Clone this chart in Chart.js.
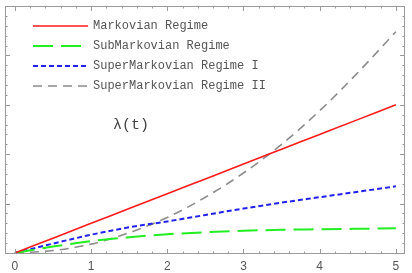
<!DOCTYPE html>
<html>
<head>
<meta charset="utf-8">
<script src="https://cdn.jsdelivr.net/npm/chart.js@4.4.1/dist/chart.umd.min.js"></script>
<style>
  html, body { margin: 0; padding: 0; background: #fff; }
  #wrap { width: 412px; height: 273px; }
</style>
</head>
<body>
<div id="wrap"><canvas id="c" width="412" height="273"></canvas></div>
<script>
// sample times (t)
const times = [0, 0.5, 1, 1.5, 2, 2.5, 3, 3.5, 4, 4.5, 5];

// lambda(t) for each regime, estimated from the plot
const markovian      = [0, 0.30, 0.60, 0.90, 1.20, 1.50, 1.80, 2.10, 2.40, 2.70, 3.00];
const subMarkovian   = [0, 0.13, 0.24, 0.32, 0.38, 0.42, 0.45, 0.47, 0.48, 0.49, 0.50];
const superMarkovI   = [0, 0.19, 0.37, 0.52, 0.64, 0.77, 0.90, 1.02, 1.13, 1.24, 1.35];
const superMarkovII  = [0, 0.05, 0.18, 0.41, 0.72, 1.13, 1.62, 2.20, 2.88, 3.65, 4.48];

const seriesLabels = ['Markovian Regime', 'SubMarkovian Regime', 'SuperMarkovian Regime I', 'SuperMarkovian Regime II'];
const xTickLabels = [0, 1, 2, 3, 4, 5];

const toXY = (ys) => times.map((t, i) => ({ x: t, y: ys[i] }));

const styles = [
  { color: '#ff1a1a', width: 1.6, dash: [] },
  { color: '#22ee22', width: 2, dash: [20, 8] },
  { color: '#2222ee', width: 2, dash: [5, 3] },
  { color: '#8c8c8c', width: 1.6, dash: [9, 6] }
];

const allSeries = [markovian, subMarkovian, superMarkovI, superMarkovII];

// frame with inward ticks, Mathematica style
const framePlugin = {
  id: 'frame',
  afterDatasetsDraw(chart) {
    const { ctx, chartArea: a, scales } = chart;
    const xs = scales.x, ys = scales.y;
    ctx.save();
    ctx.strokeStyle = '#9a9a9a';
    ctx.lineWidth = 1;
    ctx.strokeRect(a.left + 0.5, a.top + 0.5, a.right - a.left - 1, a.bottom - a.top - 1);

    ctx.beginPath();
    for (let i = 0; i <= 25; i++) {
      const v = i * 0.2;
      const px = Math.round(xs.getPixelForValue(v)) + 0.5;
      const len = (i % 5 === 0) ? 5 : 2.5;
      ctx.moveTo(px, a.bottom); ctx.lineTo(px, a.bottom - len);
      ctx.moveTo(px, a.top); ctx.lineTo(px, a.top + len);
    }
    for (let i = 0; i <= 25; i++) {
      const v = i * 0.2;
      const py = Math.round(ys.getPixelForValue(v)) + 0.5;
      if (py < a.top) continue;
      const len = (i % 5 === 0) ? 5 : 2.5;
      ctx.moveTo(a.left, py); ctx.lineTo(a.left + len, py);
      ctx.moveTo(a.right, py); ctx.lineTo(a.right - len, py);
    }
    ctx.stroke();

    // legend
    ctx.font = '12px "Liberation Mono", "DejaVu Sans Mono", monospace';
    ctx.textBaseline = 'middle';
    chart.data.datasets.forEach((ds, i) => {
      const y = 26 + i * 20;
      ctx.beginPath();
      ctx.strokeStyle = ds.borderColor;
      ctx.lineWidth = ds.borderWidth;
      ctx.setLineDash(ds.borderDash);
      ctx.moveTo(33, y);
      ctx.lineTo(88, y);
      ctx.stroke();
      ctx.setLineDash([]);
      ctx.fillStyle = '#555';
      ctx.fillText(ds.label, 93, y);
    });

    ctx.font = '15px "Liberation Mono", "DejaVu Sans Mono", monospace';
    ctx.fillStyle = '#444';
    ctx.fillText('λ(t)', 113, 125);
    ctx.restore();
  }
};

new Chart(document.getElementById('c'), {
  type: 'line',
  data: {
    datasets: allSeries.map((ys, i) => ({
      label: seriesLabels[i],
      data: toXY(ys),
      borderColor: styles[i].color,
      borderWidth: styles[i].width,
      borderDash: styles[i].dash,
      pointRadius: 0,
      fill: false,
      cubicInterpolationMode: 'monotone'
    }))
  },
  options: {
    responsive: false,
    animation: false,
    layout: { padding: { left: 5, right: 7, top: 6, bottom: 0 } },
    plugins: { legend: { display: false }, tooltip: { enabled: false } },
    scales: {
      x: {
        type: 'linear',
        min: -0.13,
        max: 5.12,
        afterBuildTicks(scale) { scale.ticks = xTickLabels.map(v => ({ value: v })); },
        afterFit(scale) { scale.height = 19; },
        grid: { display: false, drawTicks: false },
        border: { display: false },
        ticks: {
          padding: 5,
          color: '#555',
          font: { family: '"Liberation Sans", Arial, sans-serif', size: 12 },
          maxRotation: 0
        }
      },
      y: {
        type: 'linear',
        display: false,
        min: -0.02,
        max: 5
      }
    }
  },
  plugins: [framePlugin]
});
</script>
</body>
</html>
